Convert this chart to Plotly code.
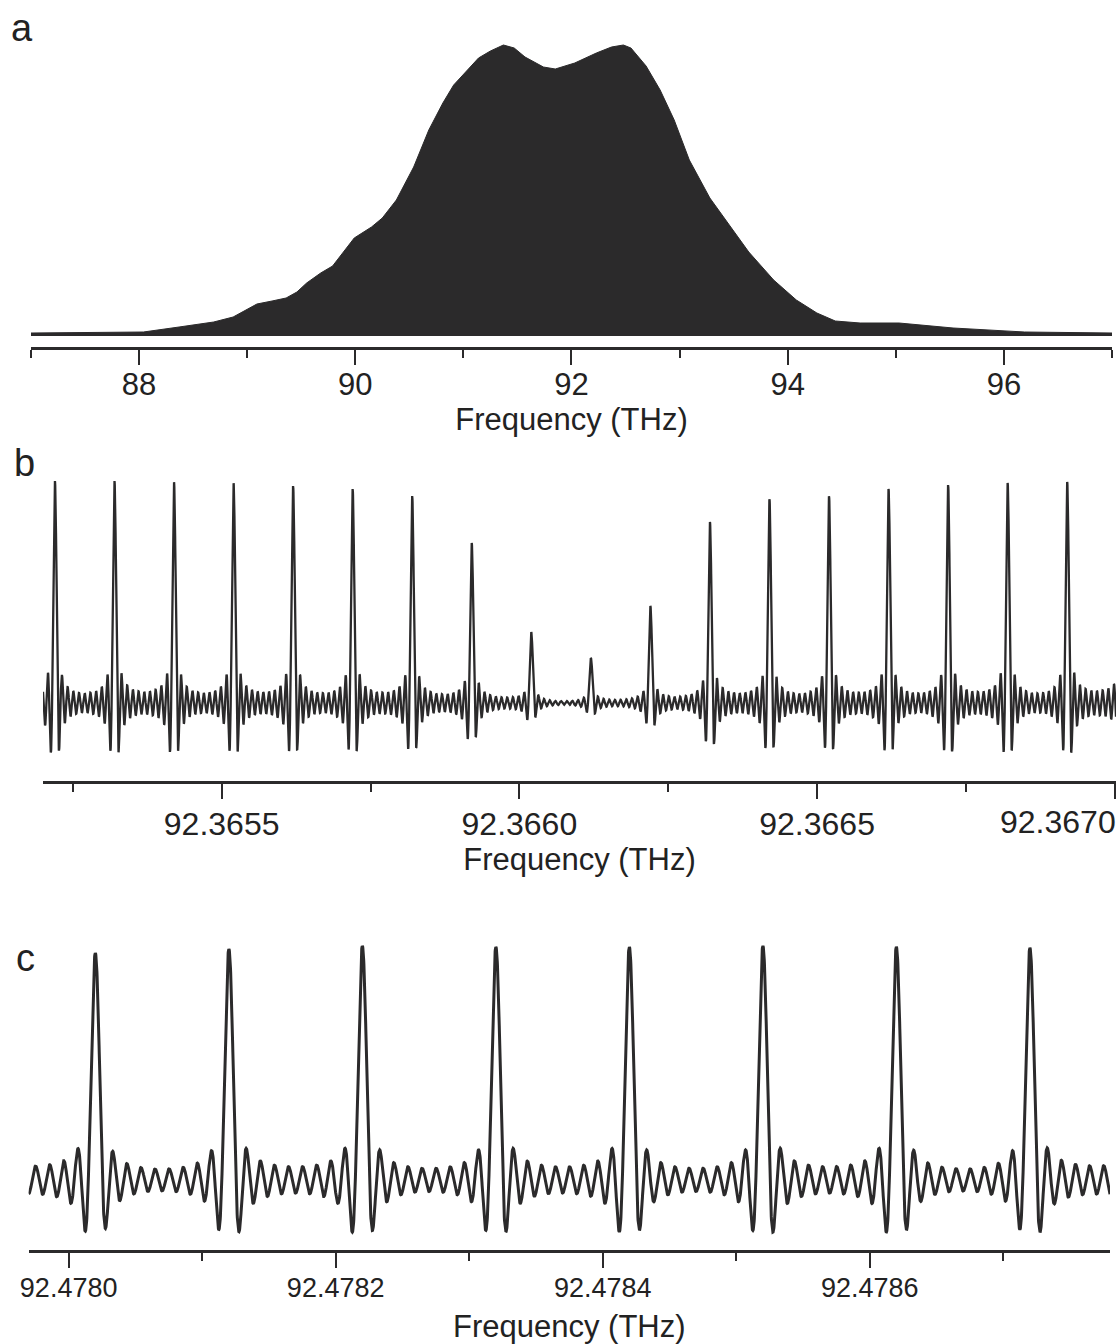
import numpy as np
import plotly.graph_objects as go

# ---------------- data ----------------
# Panel a: spectral envelope (frequency in THz, intensity in arb. units)
env_freq = [87.00, 88.04, 88.37, 88.69, 88.87, 89.00, 89.09, 89.23, 89.36, 89.46,
            89.55, 89.68, 89.79, 89.89, 89.99, 90.15, 90.25, 90.38, 90.54, 90.68,
            90.81, 90.91, 91.01, 91.14, 91.25, 91.37, 91.47, 91.57, 91.74, 91.85,
            92.03, 92.23, 92.37, 92.48, 92.55, 92.69, 92.82, 92.95, 93.09, 93.28,
            93.48, 93.64, 93.87, 94.08, 94.27, 94.44, 94.67, 95.03, 95.53, 96.19,
            97.00]
env_amp = [3, 4, 9, 14, 19, 27, 32, 35, 38, 44,
           53, 63, 70, 84, 98, 109, 118, 136, 169, 206,
           233, 251, 263, 278, 285, 291, 288, 279, 269, 267,
           273, 283, 289, 291, 288, 270, 246, 216, 176, 138,
           108, 84, 56, 36, 23, 15, 13, 13, 8, 4,
           3]

# Panel b: comb lines (THz) and their heights (arb. units)
b_line_freq = [92.36512, 92.36522, 92.36532, 92.36542, 92.36552, 92.36562,
               92.36572, 92.36582, 92.36592, 92.36602, 92.36612, 92.36622,
               92.36632, 92.36642, 92.36652, 92.36662, 92.36672, 92.36682,
               92.36692, 92.36702]
b_line_amp = [222, 222, 222, 221, 220, 217, 214, 207, 160, 71,
              45, 97, 181, 204, 207, 214, 218, 220, 221, 221]
b_resolution = 0.0001 / 21      # instrument (sinc) resolution, THz

# Panel c: comb lines (THz) and their heights (arb. units)
c_line_freq = [92.47792, 92.47802, 92.47812, 92.47822, 92.47832, 92.47842,
               92.47852, 92.47862, 92.47872, 92.47882]
c_line_amp = [228, 227, 231, 234, 233, 233, 234, 233, 232, 232]
c_resolution = 0.0001 / 19

a_ticks = [88, 90, 92, 94, 96]
a_minor = [87, 89, 91, 93, 95, 97]
b_ticks = [92.3655, 92.3660, 92.3665, 92.3670]
b_ticklabels = ["92.3655", "92.3660", "92.3665", ""]
b_last_label = "92.3670"
b_minor = [92.36525, 92.36575, 92.36625, 92.36675]
c_ticks = [92.4780, 92.4782, 92.4784, 92.4786]
c_minor = [92.4781, 92.4783, 92.4785, 92.4787]

a_range = [87, 97.0001]
b_range = [92.3652, 92.367002]
c_range = [92.47797, 92.47878]

# ---------------- helpers ----------------
INK = "#2b2a2b"
TXT = "#222222"
FONT = "Liberation Sans, Arial, sans-serif"


def comb_trace(freqs, amps, res, frange, n):
    f = np.linspace(frange[0], frange[1], n)
    y = np.zeros_like(f)
    for f0, a in zip(freqs, amps):
        y += a * np.sinc((f - f0) / res)
    return f, y


def px_x(p):
    return p / 1120.0


def px_y(p):
    return 1 - p / 1344.0


fig = go.Figure()

# Panel a
fig.add_trace(go.Scatter(x=env_freq, y=env_amp, mode="lines", fill="tozeroy",
                         fillcolor=INK, line=dict(color=INK, width=1),
                         xaxis="x", yaxis="y", hoverinfo="skip"))

# Panel b
fb, yb = comb_trace(b_line_freq, b_line_amp, b_resolution, b_range, 8000)
fig.add_trace(go.Scatter(x=fb, y=yb, mode="lines",
                         line=dict(color=INK, width=2.3),
                         xaxis="x2", yaxis="y2", hoverinfo="skip"))

# Panel c
fc, yc = comb_trace(c_line_freq, c_line_amp, c_resolution, c_range, 6000)
fig.add_trace(go.Scatter(x=fc, y=yc, mode="lines",
                         line=dict(color=INK, width=3),
                         xaxis="x3", yaxis="y3", hoverinfo="skip"))


def xaxis_style(domain_px, anchor, rng, ticks, minor, fmt, size, lab_off, title_off):
    return dict(
        domain=[px_x(domain_px[0]), px_x(domain_px[1])],
        anchor=anchor, range=rng, automargin=False,
        showline=True, linecolor=INK, linewidth=2.6,
        ticks="outside", ticklen=15, tickwidth=2.4, tickcolor=INK,
        tickvals=ticks, tickformat=fmt, ticklabelstandoff=lab_off,
        tickfont=dict(family=FONT, size=size, color=TXT),
        minor=dict(tickvals=minor, ticks="outside", ticklen=8,
                   tickwidth=2.4, tickcolor=INK),
        showgrid=False, zeroline=False,
        title=dict(text="Frequency (THz)",
                   font=dict(family=FONT, size=31, color=TXT),
                   standoff=title_off),
        fixedrange=True,
    )


def yaxis_style(domain_px, anchor, rng):
    return dict(domain=[px_y(domain_px[1]), px_y(domain_px[0])],
                anchor=anchor, range=rng, visible=False, fixedrange=True,
                automargin=False)


xa2 = xaxis_style((43, 1116), "y2", b_range, b_ticks, b_minor, ".4f", 32, -2, 5)
xa2["ticktext"] = b_ticklabels

fig.update_layout(
    width=1120, height=1344,
    margin=dict(l=0, r=0, t=0, b=0, pad=0),
    paper_bgcolor="white", plot_bgcolor="white",
    showlegend=False,
    xaxis=xaxis_style((31, 1112), "y", a_range, a_ticks, a_minor, "d", 31, -7, 2),
    yaxis=yaxis_style((40, 347), "x", [-11, 296]),
    xaxis2=xa2,
    yaxis2=yaxis_style((470, 781), "x2", [-78, 233]),
    xaxis3=xaxis_style((28.6, 1110), "y3", c_range, c_ticks, c_minor, ".4f", 27, -3, 15),
    yaxis3=yaxis_style((935, 1250), "x3", [-70, 245]),
)

# last tick label of panel b is pulled inside the figure edge
fig.add_annotation(text=b_last_label, x=px_x(1118), y=px_y(822), xref="paper", yref="paper",
                   showarrow=False, xanchor="right", yanchor="middle",
                   font=dict(family=FONT, size=32, color=TXT))

for letter, x, y in [("a", 22, 28), ("b", 24, 463), ("c", 25, 958)]:
    fig.add_annotation(text=letter, x=px_x(x), y=px_y(y), xref="paper", yref="paper",
                       showarrow=False, xanchor="center", yanchor="middle",
                       font=dict(family=FONT, size=38, color=TXT))

fig.write_html("out.html",
               config={"displayModeBar": False},
               post_script="document.body.style.margin='0';document.body.style.overflow='hidden';")
